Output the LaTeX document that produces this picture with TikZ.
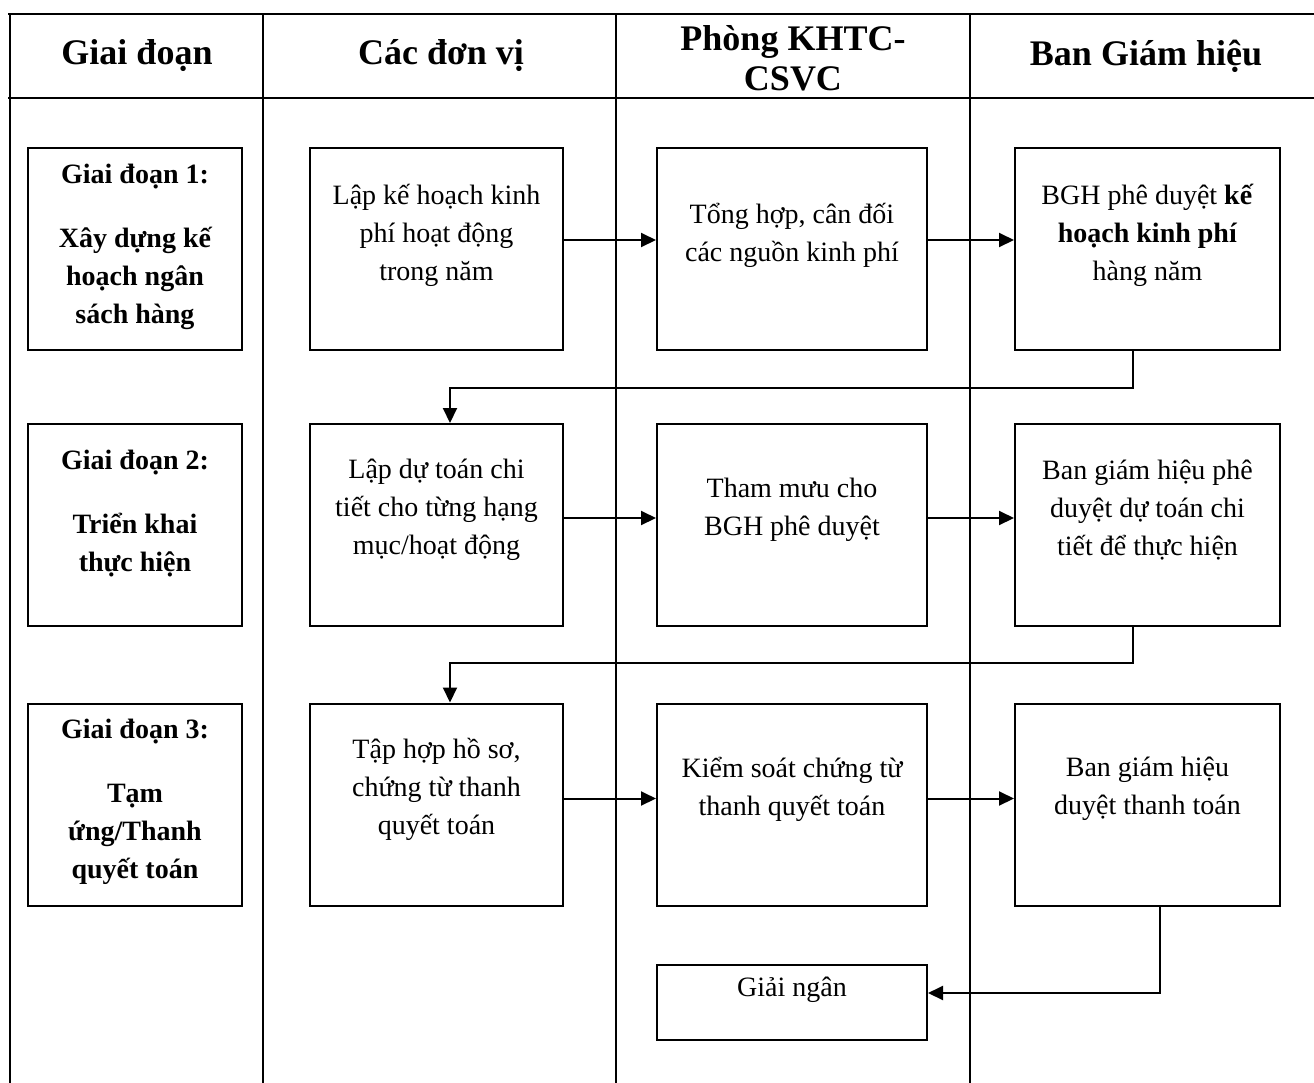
\documentclass[tikz,border=0pt]{standalone}
\usepackage{fontspec}
\setmainfont{Liberation Serif}
\usetikzlibrary{arrows.meta,calc}
\begin{document}
\begin{tikzpicture}[x=0.5pt,y=-0.5pt,
  gridline/.style={line width=1.1pt},
  head/.style={align=center,font=\fontsize{18}{20}\selectfont\bfseries},
  stagebox/.style={draw,line width=1pt,minimum width=107pt,minimum height=101pt,inner sep=0pt},
  unitbox/.style={draw,line width=1pt,minimum width=126.5pt,minimum height=101pt,inner sep=0pt},
  officebox/.style={draw,line width=1pt,minimum width=135pt,minimum height=101pt,inner sep=0pt},
  boardbox/.style={draw,line width=1pt,minimum width=132.5pt,minimum height=101pt,inner sep=0pt},
  txt/.style={align=center,font=\fontsize{14}{19}\selectfont},
  stagetxt/.style={align=center,font=\fontsize{14}{19}\selectfont\bfseries},
  flow/.style={line width=1pt,-{Triangle[length=7.5pt,width=7pt]}},
  link/.style={line width=1pt}
]
\useasboundingbox (0,0) rectangle (1314,1083);

% swimlane table
\draw[gridline] (8,14) -- (1314,14);
\draw[gridline] (8,98) -- (1314,98);
\foreach \cx in {10,263,616,970}
  \draw[gridline] (\cx,14) -- (\cx,1083);

% lane headers
\node[head] (h1) at (137,56) {Giai đoạn};
\node[head] (h2) at (441,56) {Các đơn vị};
\node[head] (h3) at (793,58) {Phòng KHTC-\\CSVC};
\node[head] (h4) at (1146,56) {Ban Giám hiệu};

% stage boxes
\node[stagebox] (s1) at (135,249) {};
\node[stagebox] (s2) at (135,525) {};
\node[stagebox] (s3) at (135,804.5) {};
\node[stagetxt] (st1) at (135,247) {Giai đoạn 1:\\[13pt]Xây dựng kế\\hoạch ngân\\sách hàng};
\node[stagetxt] (st2) at (135,514) {Giai đoạn 2:\\[13pt]Triển khai\\thực hiện};
\node[stagetxt] (st3) at (135,802) {Giai đoạn 3:\\[13pt]Tạm\\ứng/Thanh\\quyết toán};

% process boxes
\node[unitbox]   (b11) at (436.5,249) {};
\node[officebox] (b12) at (792,249) {};
\node[boardbox]  (b13) at (1147.5,249) {};
\node[unitbox]   (b21) at (436.5,525) {};
\node[officebox] (b22) at (792,525) {};
\node[boardbox]  (b23) at (1147.5,525) {};
\node[unitbox]   (b31) at (436.5,804.5) {};
\node[officebox] (b32) at (792,804.5) {};
\node[boardbox]  (b33) at (1147.5,804.5) {};
\node[draw,line width=1pt,minimum width=135pt,minimum height=37.5pt,inner sep=0pt] (b4) at (792,1002.5) {};

% box texts
\node[txt] (t11) at (436.5,235) {Lập kế hoạch kinh\\phí hoạt động\\trong năm};
\node[txt] (t12) at (792,235) {Tổng hợp, cân đối\\các nguồn kinh phí};
\node[txt] (t13) at (1147.5,235) {BGH phê duyệt \textbf{kế}\\\textbf{hoạch kinh phí}\\hàng năm};
\node[txt] (t21) at (436.5,510) {Lập dự toán chi\\tiết cho từng hạng\\mục/hoạt động};
\node[txt] (t22) at (792,510) {Tham mưu cho\\BGH phê duyệt};
\node[txt] (t23) at (1147.5,510) {Ban giám hiệu phê\\duyệt dự toán chi\\tiết để thực hiện};
\node[txt] (t31) at (436.5,789) {Tập hợp hồ sơ,\\chứng từ thanh\\quyết toán};
\node[txt] (t32) at (792,789) {Kiểm soát chứng từ\\thanh quyết toán};
\node[txt] (t33) at (1147.5,789) {Ban giám hiệu\\duyệt thanh toán};
\node[txt] (t4) at (792,990) {Giải ngân};

% horizontal flows
\draw[flow] ($(b11.east)+(0,-9)$) -- ($(b12.west)+(0,-9)$);
\draw[flow] ($(b12.east)+(0,-9)$) -- ($(b13.west)+(0,-9)$);
\draw[flow] ($(b21.east)+(0,-7)$) -- ($(b22.west)+(0,-7)$);
\draw[flow] ($(b22.east)+(0,-7)$) -- ($(b23.west)+(0,-7)$);
\draw[flow] ($(b31.east)+(0,-6)$) -- ($(b32.west)+(0,-6)$);
\draw[flow] ($(b32.east)+(0,-6)$) -- ($(b33.west)+(0,-6)$);

% returns to the next stage
\coordinate (r1) at (1133,388);
\coordinate (r2) at (1133,663);
\draw[flow] (b13.south -| r1) -- (r1) -- (r1 -| 450,0) -- (b21.north -| 450,0);
\draw[flow] (b23.south -| r2) -- (r2) -- (r2 -| 450,0) -- (b31.north -| 450,0);

% payout
\coordinate (r3) at (1160,993);
\draw[flow] (b33.south -| r3) -- (r3) -- (r3 -| b4.east);
\end{tikzpicture}
\end{document}
